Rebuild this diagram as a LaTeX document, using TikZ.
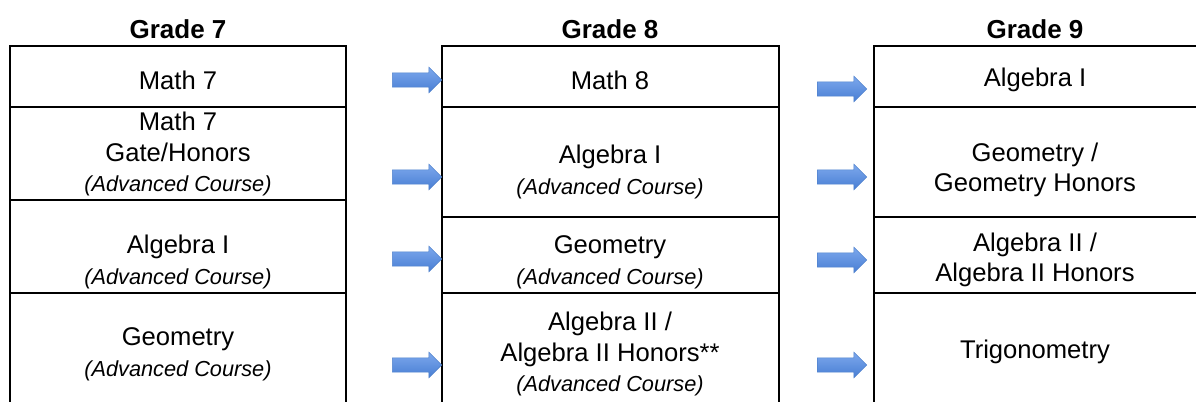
\documentclass[tikz,border=0pt]{standalone}
\usepackage{fontspec}
\setmainfont{Liberation Sans}
\usepackage{xcolor}
\usetikzlibrary{shapes.arrows}

\definecolor{arrowtop}{RGB}{125,168,236}
\definecolor{arrowbot}{RGB}{72,126,212}
\definecolor{arrowedge}{RGB}{80,130,205}
\newcommand{\adv}{{\fontsize{16.3}{23}\selectfont\itshape (Advanced Course)}}

\begin{document}
\begin{tikzpicture}[
  x=0.75pt, y=-0.75pt,
  grid/.style={line width=2pt, black},
  head/.style={font=\fontsize{19.5}{23}\selectfont\bfseries, anchor=center},
  cell/.style={align=center, inner sep=0pt, font=\fontsize{19.2}{23}\selectfont},
  nextarrow/.style={single arrow, anchor=tip, top color=arrowtop, bottom color=arrowbot,
                    draw=arrowedge, line width=0.4pt, inner sep=5.2pt, minimum width=18.8pt,
                    minimum height=37pt, single arrow head extend=4.1pt,
                    single arrow head indent=0pt},
]
\useasboundingbox (0,0) rectangle (1196,402);

% Table lines
\draw[grid] (10,402) -- (10,46) -- (346,46) -- (346,402);
\draw[grid] (442,402) -- (442,46) -- (779,46) -- (779,402);
\draw[grid] (874,402) -- (874,46) -- (1200,46);
\foreach \y in {107,200,293}
  \draw[grid] (10,\y) -- (346,\y);
\foreach \y in {107,217,293} {
  \draw[grid] (442,\y) -- (779,\y);
  \draw[grid] (874,\y) -- (1200,\y);
}

% Grade 7
\node[head] (g7) at (178,29) {Grade 7};
\node[cell] (m7) at (178,80) {Math 7};
\node[cell] (m7h) at (178,154) {Math 7\\Gate/Honors\\\adv};
\node[cell] (a1s) at (178,262) {Algebra I\\\adv};
\node[cell] (geos) at (178,354) {Geometry\\\adv};

% Grade 8
\node[head] (g8) at (610,29) {Grade 8};
\node[cell] (m8) at (610,80) {Math 8};
\node[cell] (a1e) at (610,172) {Algebra I\\\adv};
\node[cell] (geoe) at (610,262) {Geometry\\\adv};
\node[cell] (a2e) at (610,354) {Algebra II /\\Algebra II Honors**\\\adv};

% Grade 9
\node[head] (g9) at (1035,29) {Grade 9};
\node[cell] (a1n) at (1035,80) {Algebra I};
\node[cell] (geon) at (1035,170) {Geometry /\\Geometry Honors};
\node[cell] (a2n) at (1035,260) {Algebra II /\\Algebra II Honors};
\node[cell] (trig) at (1035,352) {Trigonometry};

% Arrows
\node[nextarrow] (ar1) at (442,80) {};
\node[nextarrow] (ar2) at (442,177) {};
\node[nextarrow] (ar3) at (442,259) {};
\node[nextarrow] (ar4) at (442,365) {};
\node[nextarrow] (br1) at (867,89) {};
\node[nextarrow] (br2) at (867,177) {};
\node[nextarrow] (br3) at (867,260) {};
\node[nextarrow] (br4) at (867,365) {};

\end{tikzpicture}
\end{document}
